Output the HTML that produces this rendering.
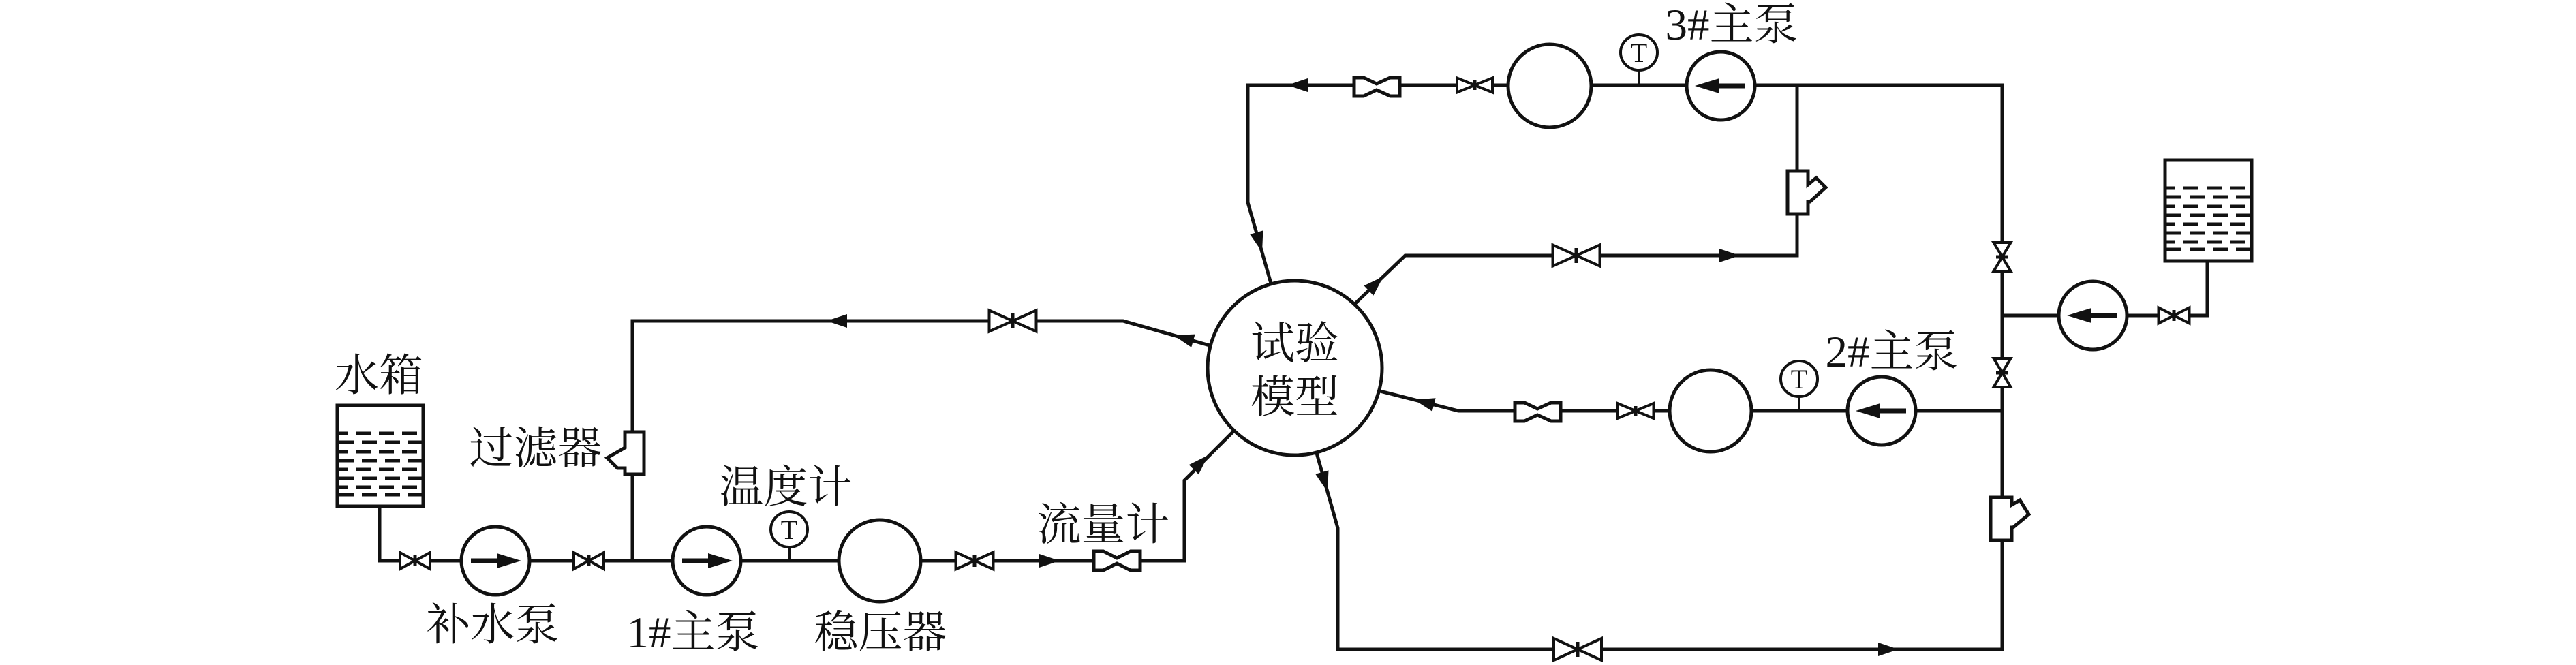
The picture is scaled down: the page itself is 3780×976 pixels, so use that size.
<!DOCTYPE html>
<html><head><meta charset="utf-8"><style>
html,body{margin:0;padding:0;background:#fff;}
svg{display:block;}
text{font-family:"Liberation Serif","Noto Serif CJK SC","Noto Serif CJK JP",serif;fill:#111;}
</style></head><body>
<svg width="3780" height="976" viewBox="0 0 3780 976" xmlns="http://www.w3.org/2000/svg">
<rect width="3780" height="976" fill="#fff"/>
<defs>
<clipPath id="t1"><rect x="497" y="597" width="122" height="144"/></clipPath>
<clipPath id="t2"><rect x="3179" y="237" width="123" height="144"/></clipPath>
</defs>
<g fill="none" stroke="#111" stroke-width="5" stroke-linejoin="miter">
<!-- pipes -->
<polyline points="557,743 557,823 1738,823 1738,705 1811,632"/>
<polyline points="928,823 928,471 1648,471 1775,507"/>
<polyline points="1865,416 1831,297 1831,125 2938,125 2938,953 1963,953 1963,775 1932,665"/>
<polyline points="2637,125 2637,375 2062,375 1987,447"/>
<polyline points="2938,603 2140,603 2025,574"/>
<polyline points="2938,463 3239,463 3239,383"/>
</g>

<g stroke="#111" stroke-width="5" fill="#fff">
<!-- test model -->
<circle cx="1900" cy="540" r="128"/>
<!-- tanks -->
<rect x="495" y="595" width="126" height="148"/>
<rect x="3177" y="235" width="127" height="148"/>
<!-- plain circles -->
<circle cx="1291" cy="823" r="60"/>
<circle cx="2274" cy="126" r="61"/>
<circle cx="2510" cy="603" r="60"/>
<!-- pumps -->
<circle cx="727" cy="823" r="50"/>
<circle cx="1037" cy="823" r="50"/>
<circle cx="2525" cy="126" r="50"/>
<circle cx="2761" cy="603" r="50"/>
<circle cx="3071" cy="463" r="50"/>
</g>

<!-- tank water dashes -->
<g stroke="#111" stroke-width="5" clip-path="url(#t1)">
<line x1="488" y1="636" x2="625" y2="636" stroke-dasharray="22 12"/>
<line x1="497" y1="649" x2="625" y2="649" stroke-dasharray="22 12"/>
<line x1="488" y1="663" x2="625" y2="663" stroke-dasharray="22 12"/>
<line x1="497" y1="676" x2="625" y2="676" stroke-dasharray="22 12"/>
<line x1="488" y1="689" x2="625" y2="689" stroke-dasharray="22 12"/>
<line x1="497" y1="702" x2="625" y2="702" stroke-dasharray="22 12"/>
<line x1="488" y1="715" x2="625" y2="715" stroke-dasharray="22 12"/>
<line x1="497" y1="726" x2="625" y2="726" stroke-dasharray="22 12"/>
</g>
<g stroke="#111" stroke-width="5" clip-path="url(#t2)">
<line x1="3170" y1="276" x2="3310" y2="276" stroke-dasharray="22 12"/>
<line x1="3179" y1="289" x2="3310" y2="289" stroke-dasharray="22 12"/>
<line x1="3170" y1="303" x2="3310" y2="303" stroke-dasharray="22 12"/>
<line x1="3179" y1="316" x2="3310" y2="316" stroke-dasharray="22 12"/>
<line x1="3170" y1="329" x2="3310" y2="329" stroke-dasharray="22 12"/>
<line x1="3179" y1="342" x2="3310" y2="342" stroke-dasharray="22 12"/>
<line x1="3170" y1="355" x2="3310" y2="355" stroke-dasharray="22 12"/>
<line x1="3179" y1="366" x2="3310" y2="366" stroke-dasharray="22 12"/>
</g>

<!-- pump arrows -->
<g stroke="#111" stroke-width="7" fill="#111">
<line x1="691" y1="823" x2="735" y2="823"/><polygon stroke="none" points="765,823 729,812 729,834"/>
<line x1="1001" y1="823" x2="1045" y2="823"/><polygon stroke="none" points="1075,823 1039,812 1039,834"/>
<line x1="2561" y1="126" x2="2517" y2="126"/><polygon stroke="none" points="2487,126 2523,115 2523,137"/>
<line x1="2797" y1="603" x2="2753" y2="603"/><polygon stroke="none" points="2723,603 2759,592 2759,614"/>
<line x1="3107" y1="463" x2="3063" y2="463"/><polygon stroke="none" points="3033,463 3069,452 3069,474"/>
</g>

<!-- valves (horizontal) -->
<g stroke="#111" stroke-width="4" fill="#fff">
<path d="M587,811 L631,835 L631,811 L587,835 Z"/>
<path d="M842,811 L886,835 L886,811 L842,835 Z"/>
<path d="M1402.5,810.5 L1457.5,835.5 L1457.5,810.5 L1402.5,835.5 Z"/>
<path d="M1451.5,455.5 L1520.5,486.5 L1520.5,455.5 L1451.5,486.5 Z"/>
<path d="M2138,114.5 L2190,135.5 L2190,114.5 L2138,135.5 Z"/>
<path d="M2278.5,359.5 L2347.5,390.5 L2347.5,359.5 L2278.5,390.5 Z"/>
<path d="M2373.5,592 L2426.5,614 L2426.5,592 L2373.5,614 Z"/>
<path d="M2280,937 L2350,969 L2350,937 L2280,969 Z"/>
<path d="M3167.5,451.5 L3212.5,474.5 L3212.5,451.5 L3167.5,474.5 Z"/>
<!-- vertical valves -->
<path d="M2925.5,356 L2950.5,398 L2925.5,398 L2950.5,356 Z"/>
<path d="M2925.5,526 L2950.5,568 L2925.5,568 L2950.5,526 Z"/>
</g>
<g stroke="#111" stroke-width="5">
<line x1="609" y1="815" x2="609" y2="831"/>
<line x1="864" y1="815" x2="864" y2="831"/>
<line x1="1430" y1="814" x2="1430" y2="832"/>
<line x1="1486" y1="460" x2="1486" y2="482"/>
<line x1="2164" y1="118" x2="2164" y2="132"/>
<line x1="2313" y1="364" x2="2313" y2="386"/>
<line x1="2400" y1="596" x2="2400" y2="610"/>
<line x1="2315" y1="942" x2="2315" y2="964"/>
<line x1="3190" y1="455" x2="3190" y2="471"/>
<line x1="2929" y1="377" x2="2946" y2="377"/>
<line x1="2929" y1="547" x2="2946" y2="547"/>
</g>

<!-- flowmeters -->
<g stroke="#111" stroke-width="5" fill="#fff" stroke-linejoin="miter">
<path d="M1605,809 L1619,809 L1639,819 L1659,809 L1673,809 L1673,837 L1659,837 L1639,827 L1619,837 L1605,837 Z"/>
<path d="M1987,114 L2001,114 L2020,123 L2040,114 L2054,114 L2054,141 L2040,141 L2020,132 L2001,141 L1987,141 Z"/>
<path d="M2223,591 L2237,591 L2256,600 L2276,591 L2290,591 L2290,618 L2276,618 L2256,609 L2237,618 L2223,618 Z"/>
</g>

<!-- filters -->
<g stroke="#111" stroke-width="5" fill="#fff" stroke-linejoin="miter">
<path d="M945,634 L917,634 L917,657 L891,672 L906,687 L917,687 L917,696 L945,696 Z"/>
<path d="M2623,251 L2653,251 L2653,271 L2665,261 L2679,275 L2656,296 L2653,296 L2653,314 L2623,314 Z"/>
<path d="M2921,730 L2952,730 L2952,741 L2964,734 L2977,755 L2954,774 L2952,774 L2952,793 L2921,793 Z"/>
</g>

<!-- temperature gauges -->
<g stroke="#111" stroke-width="4" fill="#fff">
<line x1="1158" y1="803" x2="1158" y2="823"/>
<line x1="2405" y1="103" x2="2405" y2="125"/>
<line x1="2640" y1="582" x2="2640" y2="603"/>
<ellipse cx="1158" cy="777" rx="27" ry="26"/>
<ellipse cx="2405" cy="77" rx="27" ry="26"/>
<ellipse cx="2640" cy="556" rx="27" ry="26"/>
</g>
<g font-size="40" text-anchor="middle">
<text x="1158" y="791">T</text>
<text x="2405" y="91">T</text>
<text x="2640" y="570">T</text>
</g>

<!-- line arrowheads -->
<g fill="#111">
<polygon points="1213,471 1243,461 1243,481"/>
<polygon points="1555,823 1525,813 1525,833"/>
<polygon points="1889,125 1919,115 1919,135"/>
<polygon points="2553,375 2523,365 2523,385"/>
<polygon points="2786,953 2756,943 2756,963"/>
<polygon points="1773,668 1758.9,696.3 1744.7,682.1"/>
<polygon points="1722,492 1753.6,490.6 1748.2,509.8"/>
<polygon points="1852,370 1834.2,343.9 1853.4,338.4"/>
<polygon points="2030,405.7 2015.3,433.7 2001.5,419.3"/>
<polygon points="2075,586.6 2106.6,584.3 2101.7,603.7"/>
<polygon points="1948,722 1930.3,695.8 1949.5,690.4"/>
</g>

<!-- labels -->
<g font-size="65" text-anchor="middle">
<text x="556" y="573">水箱</text>
<text x="786" y="680">过滤器</text>
<text x="723" y="939">补水泵</text>
<text x="1017" y="950">1#主泵</text>
<text x="1153" y="737">温度计</text>
<text x="1292" y="950">稳压器</text>
<text x="1619" y="792">流量计</text>
<text x="2541" y="58">3#主泵</text>
<text x="2776" y="538">2#主泵</text>
<text x="1900" y="526">试验</text>
<text x="1900" y="605">模型</text>
</g>
</svg>
</body></html>
